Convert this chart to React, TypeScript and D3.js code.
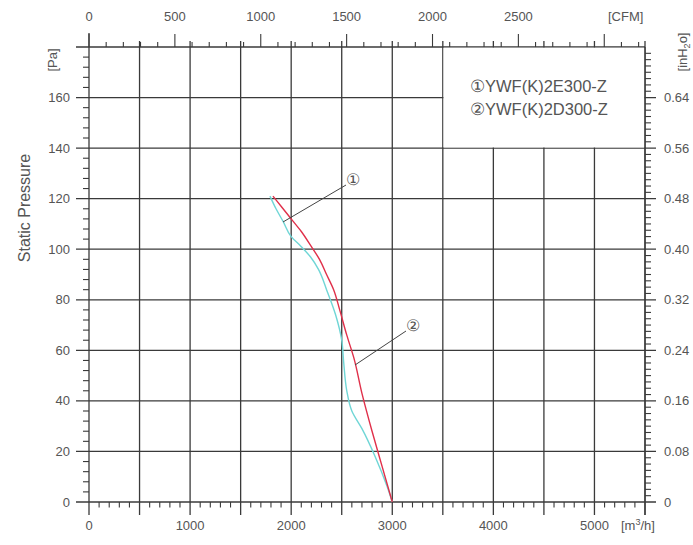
import React from "react";
import * as d3 from "d3";

const flowTicks = [0, 1000, 2000, 3000, 4000, 5000];
const pressureTicks = [0, 20, 40, 60, 80, 100, 120, 140, 160];
const cfmTicks = [0, 500, 1000, 1500, 2000, 2500, 3000];
const cfmLabels = ["0", "500", "1000", "1500", "2000", "2500", ""];
const inh2oTicks = [0, 0.08, 0.16, 0.24, 0.32, 0.4, 0.48, 0.56, 0.64];
const inh2oLabels = ["0", "0.08", "0.16", "0.24", "0.32", "0.40", "0.48", "0.56", "0.64"];

const seriesNames = ["\u2460YWF(K)2E300-Z", "\u2461YWF(K)2D300-Z"];

// ① YWF(K)2E300-Z (cyan)
const curve1Flow = [1790, 1850, 1920, 2000, 2100, 2190, 2270, 2350, 2440, 2500, 2520, 2550, 2600, 2700, 2830, 2950, 3000];
const curve1Pa = [121, 116, 111, 105, 101, 97, 92, 84, 74, 64, 55, 44, 36, 29, 18, 6, 0];
// ② YWF(K)2D300-Z (red)
const curve2Flow = [1820, 1900, 2000, 2100, 2200, 2280, 2350, 2420, 2480, 2550, 2620, 2700, 2800, 2900, 3000];
const curve2Pa = [121, 117, 112, 107, 101, 96, 90, 84, 76, 66, 57, 43, 28, 14, 0];

const W = 693, H = 545;
const x = d3.scaleLinear().domain([0, 5500]).range([89, 645]);
const y = d3.scaleLinear().domain([0, 180]).range([502, 47]);
const xc = d3.scaleLinear().domain([0, 5500 / 1.699]).range([89, 645]);
const yi = d3.scaleLinear().domain([0, 180 / 250]).range([502, 47]);

const GRID = "#3a3a3a";
const TXT = "#555";
const FONT = "'Liberation Sans', Arial, sans-serif";

export default function App() {
  const line = d3.line<[number, number]>().x(d => x(d[0])).y(d => y(d[1])).curve(d3.curveMonotoneY);
  const pts1 = curve1Flow.map((f, i) => [f, curve1Pa[i]] as [number, number]).sort((a, b) => b[1] - a[1]);
  const pts2 = curve2Flow.map((f, i) => [f, curve2Pa[i]] as [number, number]).sort((a, b) => b[1] - a[1]);
  const c1 = line(pts1) || "";
  const c2 = line(pts2) || "";

  const gridX = d3.range(0, 5501, 500);
  const gridY = d3.range(0, 181, 20);
  const minorX = d3.range(0, 5501, 100).filter(v => v % 500 !== 0);
  const minorY = d3.range(0, 181, 4).filter(v => v % 20 !== 0);
  const minorCfm = d3.range(0, 3201, 100).filter(v => v % 500 !== 0);
  const minorIn = d3.range(0, 73).map(v => v / 100).filter(v => Math.round(v * 100) % 8 !== 0);

  const lx0 = x(3500), lx1 = x(5500), ly0 = y(180), ly1 = y(140);

  return (
    <svg width={W} height={H} style={{ position: "absolute", left: 0, top: 0, background: "#fff" }} fontFamily={FONT}>
      <rect x={0} y={0} width={W} height={H} fill="#fff" />
      {gridX.map(v => (
        <line key={"gx" + v} x1={x(v)} x2={x(v)} y1={v === 0 ? 33 : 41} y2={515} stroke={GRID} strokeWidth={1.3} />
      ))}
      {gridY.map(v => (
        <line key={"gy" + v} x1={76} x2={v === 180 ? 645 : 656} y1={y(v)} y2={y(v)} stroke={GRID} strokeWidth={1.3} />
      ))}
      <rect x={lx0 + 0.7} y={ly0 + 0.7} width={lx1 - lx0 - 1.4} height={ly1 - ly0 - 1.4} fill="#fff" />
      <line x1={x(5500)} x2={x(5500)} y1={47} y2={515} stroke={GRID} strokeWidth={1.3} />
      {minorX.map(v => (
        <line key={"mx" + v} x1={x(v)} x2={x(v)} y1={502} y2={507.5} stroke={GRID} strokeWidth={1.1} />
      ))}
      {minorY.map(v => (
        <line key={"my" + v} x1={83} x2={89} y1={y(v)} y2={y(v)} stroke={GRID} strokeWidth={1.1} />
      ))}
      {minorCfm.map(v => (
        <line key={"mc" + v} x1={xc(v)} x2={xc(v)} y1={42} y2={47} stroke={GRID} strokeWidth={1.1} />
      ))}
      {cfmTicks.map(v => (
        <line key={"Mc" + v} x1={xc(v)} x2={xc(v)} y1={34} y2={47} stroke={GRID} strokeWidth={1.1} />
      ))}
      {minorIn.map(v => (
        <line key={"mi" + v} x1={645} x2={651} y1={yi(v)} y2={yi(v)} stroke={GRID} strokeWidth={1.1} />
      ))}

      {flowTicks.map(v => (
        <text key={"fl" + v} x={x(v)} y={530} textAnchor="middle" fontSize={13} fill={TXT}>{v}</text>
      ))}
      <text x={621} y={530} fontSize={13} fill={TXT}>[m<tspan dy={-5} fontSize={9}>3</tspan><tspan dy={5}>/h]</tspan></text>
      {cfmTicks.map((v, i) => (
        <text key={"cf" + v} x={xc(v)} y={21} textAnchor="middle" fontSize={13} fill={TXT}>{cfmLabels[i]}</text>
      ))}
      <text x={608} y={21} fontSize={13} fill={TXT}>[CFM]</text>
      {pressureTicks.map(v => (
        <text key={"pa" + v} x={70} y={y(v) + 4.5} textAnchor="end" fontSize={13} fill={TXT}>{v}</text>
      ))}
      {inh2oTicks.map((v, i) => (
        <text key={"in" + v} x={664} y={yi(v) + 4.5} fontSize={13} fill={TXT}>{inh2oLabels[i]}</text>
      ))}
      <text transform="translate(57,60) rotate(-90)" textAnchor="middle" fontSize={13} fill={TXT}>[Pa]</text>
      <text transform="translate(30,208) rotate(-90)" textAnchor="middle" fontSize={16} fill={TXT}>Static Pressure</text>
      <text transform="translate(687,52) rotate(-90)" textAnchor="middle" fontSize={13} fill={TXT}>[inH<tspan dy={3} fontSize={9}>2</tspan><tspan dy={-3}>o]</tspan></text>

      <text x={470} y={92} fontSize={16.5} fill={TXT}>{seriesNames[0]}</text>
      <text x={470} y={115} fontSize={16.5} fill={TXT}>{seriesNames[1]}</text>

      <path d={c1} fill="none" stroke="#6fd6d6" strokeWidth={1.4} />
      <path d={c2} fill="none" stroke="#e0304a" strokeWidth={1.4} />

      <line x1={283} y1={222} x2={346} y2={185} stroke="#444" strokeWidth={1} />
      <text x={353} y={185} textAnchor="middle" fontSize={16} fill={TXT}>{"\u2460"}</text>
      <line x1={355} y1={365} x2={406} y2={331} stroke="#444" strokeWidth={1} />
      <text x={413} y={331} textAnchor="middle" fontSize={16} fill={TXT}>{"\u2461"}</text>
    </svg>
  );
}
